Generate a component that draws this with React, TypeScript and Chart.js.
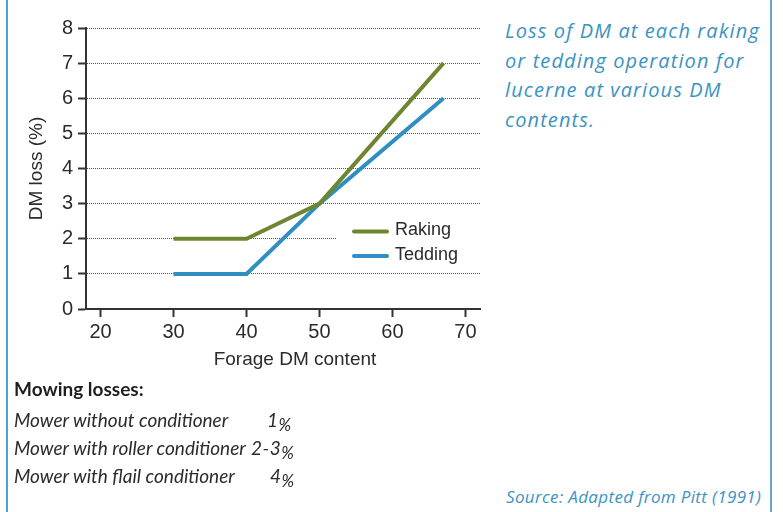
import React, { useEffect, useRef } from "react";
import { Chart, registerables } from "chart.js";

Chart.register(...registerables);

// ---- data ----
const xTicks = [20, 30, 40, 50, 60, 70];
const yTicks = [0, 1, 2, 3, 4, 5, 6, 7, 8];
const dmContent = [30, 40, 50, 67];
const raking = [2, 2, 3, 7];
const tedding = [1, 1, 3, 6];
const seriesLabels = ["Raking", "Tedding"];
const seriesColors = ["#6f8630", "#2f8ec2"];
const xTitle = "Forage DM content";
const yTitle = "DM loss (%)";
const descriptionLines = [
  "Loss of DM at each raking",
  "or tedding operation for",
  "lucerne at various DM",
  "contents.",
];
const mowingTitle = "Mowing losses:";
const mowingItems = [
  "Mower without conditioner",
  "Mower with roller conditioner",
  "Mower with flail conditioner",
];
const mowingValues = ["1", "2-3", "4"];
const mowingValueLeft = [267, 251, 270];
const sourceText = "Source: Adapted from Pitt (1991)";

const AXIS_COLOR = "#333333";
const TEXT_COLOR = "#2b2b2b";
const BLUE_TEXT = "#3b93c3";
const TICK_FONT = "'Liberation Sans', Arial, sans-serif";

const overlayPlugin = {
  id: "overlay",
  afterDraw(chart: any) {
    const ctx = chart.ctx;
    const area = chart.chartArea;
    ctx.save();
    // axis titles
    ctx.fillStyle = TEXT_COLOR;
    ctx.font = `19px ${TICK_FONT}`;
    ctx.textAlign = "center";
    ctx.textBaseline = "middle";
    ctx.fillText(xTitle, 295, 360);
    ctx.translate(37, (area.top + area.bottom) / 2);
    ctx.rotate(-Math.PI / 2);
    ctx.fillText(yTitle, 0, 0);
    ctx.restore();

    // legend
    ctx.save();
    ctx.fillStyle = "#ffffff";
    ctx.fillRect(336, 214, area.right - 336 + 1, 52);
    const rows = [231.5, 256];
    seriesLabels.forEach((label, i) => {
      ctx.strokeStyle = seriesColors[i];
      ctx.lineWidth = 4;
      ctx.lineCap = "round";
      ctx.beginPath();
      ctx.moveTo(354, rows[i]);
      ctx.lineTo(387, rows[i]);
      ctx.stroke();
      ctx.fillStyle = TEXT_COLOR;
      ctx.font = `18px ${TICK_FONT}`;
      ctx.textAlign = "left";
      ctx.textBaseline = "middle";
      ctx.fillText(label, 395, rows[i] - 1);
    });
    ctx.restore();
  },
};

function ChartView() {
  const ref = useRef<HTMLCanvasElement | null>(null);
  useEffect(() => {
    if (!ref.current) return;
    const seriesData = [raking, tedding];
    const chart = new Chart(ref.current, {
      type: "line",
      data: {
        datasets: seriesLabels.map((label, i) => ({
          label,
          data: dmContent.map((x, j) => ({ x, y: seriesData[i][j] })),
          borderColor: seriesColors[i],
          backgroundColor: seriesColors[i],
          borderWidth: 4,
          pointRadius: 0,
          tension: 0,
          fill: false,
        })),
      },
      options: {
        responsive: false,
        animation: false,
        events: [],
        layout: { padding: { top: 28, right: 20, left: 0, bottom: 0 } },
        plugins: {
          legend: { display: false },
          tooltip: { enabled: false },
          title: { display: false },
        },
        scales: {
          x: {
            type: "linear",
            min: 18,
            max: 72,
            afterFit: (s: any) => {
              s.height = 71;
            },
            afterBuildTicks: (s: any) => {
              s.ticks = xTicks.map((v) => ({ value: v }));
            },
            grid: {
              drawOnChartArea: false,
              drawTicks: true,
              tickLength: 8,
              tickColor: AXIS_COLOR,
              tickWidth: 2,
            },
            border: { display: true, color: AXIS_COLOR, width: 2 },
            ticks: {
              color: TEXT_COLOR,
              font: { size: 20, family: TICK_FONT },
              padding: 3,
              maxRotation: 0,
            },
          },
          y: {
            type: "linear",
            min: 0,
            max: 8,
            afterFit: (s: any) => {
              s.width = 86;
            },
            afterBuildTicks: (s: any) => {
              s.ticks = yTicks.map((v) => ({ value: v }));
            },
            grid: {
              drawOnChartArea: true,
              color: (c: any) => (c.tick && c.tick.value === 0 ? "rgba(0,0,0,0)" : "#5a5a5a"),
              lineWidth: 1,
              tickLength: 8,
              tickColor: AXIS_COLOR,
              tickWidth: 2,
            },
            border: { display: true, color: AXIS_COLOR, width: 2, dash: [1, 1] },
            ticks: {
              color: TEXT_COLOR,
              font: { size: 20, family: TICK_FONT },
              padding: 5,
            },
          },
        },
      },
      plugins: [overlayPlugin],
    } as any);
    return () => chart.destroy();
  }, []);
  return (
    <canvas
      ref={ref}
      width={500}
      height={380}
      style={{ position: "absolute", left: 0, top: 0, width: 500, height: 380 }}
    />
  );
}

export default function App() {
  return (
    <div
      style={{
        position: "absolute",
        left: 0,
        top: 0,
        width: 783,
        height: 512,
        overflow: "hidden",
        background: "#ffffff",
      }}
    >
      <div
        style={{
          position: "absolute",
          left: 6,
          top: 0,
          width: 762,
          height: 512,
          borderLeft: "2px solid #4aa0d0",
          borderRight: "2px solid #6aa6cc",
        }}
      />
      <ChartView />
      <div
        style={{
          position: "absolute",
          left: 505,
          top: 16,
          fontFamily: "'Open Sans', Lato, sans-serif",
          fontStyle: "italic",
          fontSize: 20,
          letterSpacing: "1.1px",
          lineHeight: "29.5px",
          color: BLUE_TEXT,
          whiteSpace: "nowrap",
        }}
      >
        {descriptionLines.map((l, i) => (
          <div key={i}>{l}</div>
        ))}
      </div>
      <div
        style={{
          position: "absolute",
          left: 14,
          top: 378,
          fontFamily: "Lato, 'Open Sans', sans-serif",
          fontWeight: "bold",
          fontSize: 19,
          lineHeight: "22px",
          color: "#1e1e1e",
          whiteSpace: "nowrap",
        }}
      >
        {mowingTitle}
      </div>
      {mowingItems.map((item, i) => (
        <div
          key={i}
          style={{
            position: "absolute",
            left: 14,
            top: 406 + i * 28,
            width: 320,
            fontFamily: "Lato, 'Open Sans', sans-serif",
            fontStyle: "italic",
            fontSize: 19,
            lineHeight: "28px",
            color: TEXT_COLOR,
            whiteSpace: "nowrap",
          }}
        >
          <span>{item}</span>
          <span
            style={{
              position: "absolute",
              left: mowingValueLeft[i] - 14,
              top: 0,
              letterSpacing: "0.5px",
            }}
          >
            {mowingValues[i]}
            <span style={{ fontSize: 17, position: "relative", top: 4 }}>%</span>
          </span>
        </div>
      ))}
      <div
        style={{
          position: "absolute",
          left: 506,
          top: 487,
          fontFamily: "'Open Sans', Lato, sans-serif",
          fontStyle: "italic",
          fontSize: 17,
          letterSpacing: "0.35px",
          lineHeight: "20px",
          color: BLUE_TEXT,
          whiteSpace: "nowrap",
        }}
      >
        {sourceText}
      </div>
    </div>
  );
}
